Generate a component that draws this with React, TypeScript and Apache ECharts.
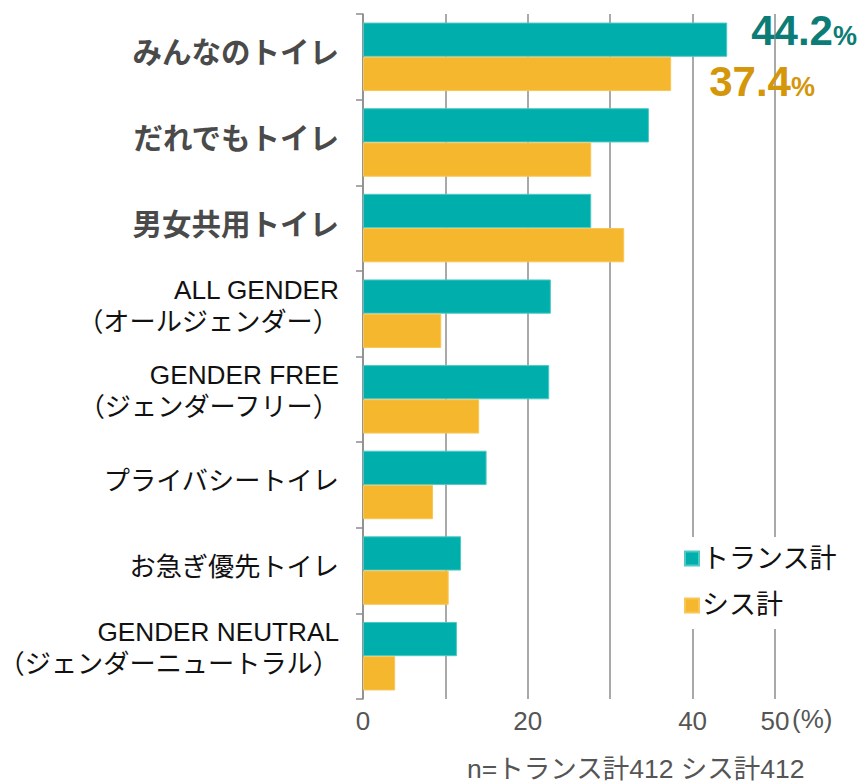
import React, { useEffect, useRef } from "react";
import * as echarts from "echarts";

const categories = [
  "みんなのトイレ",
  "だれでもトイレ",
  "男女共用トイレ",
  "ALL GENDER\n（オールジェンダー）",
  "GENDER FREE\n（ジェンダーフリー）",
  "プライバシートイレ",
  "お急ぎ優先トイレ",
  "GENDER NEUTRAL\n（ジェンダーニュートラル）",
];
const boldCats = ["みんなのトイレ", "だれでもトイレ", "男女共用トイレ"];
const transValues = [44.2, 34.7, 27.7, 22.8, 22.6, 15.0, 11.9, 11.4];
const cisValues = [37.4, 27.7, 31.7, 9.5, 14.1, 8.5, 10.4, 3.9];
const seriesNames = ["トランス計", "シス計"];
const xTickLabels: Record<number, string> = { 0: "0", 20: "20", 40: "40", 50: "50" };
const footnote = "n=トランス計412 シス計412";

const FONT = "'Liberation Sans', 'Noto Sans CJK JP', sans-serif";

export default function App() {
  const ref = useRef<HTMLDivElement>(null);
  useEffect(() => {
    document.body.style.margin = "0";
    const chart = echarts.init(ref.current!, null, { renderer: "svg" });
    const cats = [...categories].reverse();
    const trans = [...transValues].reverse();
    const cis = [...cisValues].reverse();
    const n = cats.length;
    const fmtCat = (v: string) => {
      if (boldCats.includes(v)) return `{b|${v}}\n{e1| }`;
      const lines = v.split("\n");
      if (lines.length > 1) return lines.map((l) => `{r|${l}}`).join("\n") + "\n{e2| }";
      return `{r|${v}}\n{e1| }`;
    };
    chart.setOption({
      animation: false,
      textStyle: { fontFamily: FONT },
      grid: {
        left: 363,
        right: 90,
        top: 14,
        bottom: 85,
        containLabel: false,
        outerBoundsMode: "none",
      },
      legend: {
        orient: "vertical",
        left: 678,
        top: 537,
        padding: [8, 8, 10, 6],
        backgroundColor: "#ffffff",
        itemWidth: 14,
        itemHeight: 14,
        itemGap: 20,
        icon: "rect",
        textStyle: { fontSize: 27, color: "#111", fontFamily: FONT, padding: [0, 0, 0, -2] },
        data: seriesNames,
        z: 10,
      },
      xAxis: {
        type: "value",
        min: 0,
        max: 50,
        interval: 10,
        axisLine: { show: false },
        axisTick: { show: false },
        splitLine: { show: true, lineStyle: { color: "#8c8c8c", width: 1.5 } },
        axisLabel: {
          fontSize: 26,
          color: "#555",
          margin: 9,
          formatter: (v: number) => xTickLabels[v] ?? "",
        },
      },
      yAxis: {
        type: "category",
        data: cats,
        axisLine: { show: true, lineStyle: { color: "#8c8c8c", width: 1.5 } },
        axisTick: { show: true, length: 7, lineStyle: { color: "#8c8c8c", width: 1.5 } },
        axisLabel: {
          margin: 24,
          color: "#111",
          fontSize: 26,
          lineHeight: 32,
          fontFamily: FONT,
          formatter: fmtCat,
          rich: {
            b: { fontSize: 29.5, fontWeight: "bold", color: "#4a4a4a", fontFamily: FONT, lineHeight: 34 },
            r: { fontSize: 26.2, color: "#111", fontFamily: FONT, lineHeight: 32 },
            e1: { fontSize: 2, lineHeight: 8 },
            e2: { fontSize: 2, lineHeight: 16 },
          },
        },
      },
      series: [
        {
          name: seriesNames[0],
          type: "bar",
          barGap: "0%",
          barCategoryGap: "20%",
          itemStyle: { color: "#00aeab", borderColor: "#4fc9c5", borderWidth: 1 },
          data: trans.map((v, i) =>
            i === n - 1
              ? {
                  value: v,
                  label: {
                    show: true,
                    position: "right",
                    distance: 24,
                    offset: [0, -9],
                    formatter: `{a|${v.toFixed(1)}}{p|%}`,
                    rich: {
                      a: { fontSize: 42, fontWeight: "bold", color: "#0b7c76", fontFamily: FONT },
                      p: { fontSize: 27, fontWeight: "bold", color: "#0b7c76", fontFamily: FONT, padding: [10, 0, 0, 0] },
                    },
                  },
                }
              : v
          ),
        },
        {
          name: seriesNames[1],
          type: "bar",
          barGap: "0%",
          barCategoryGap: "20%",
          itemStyle: { color: "#f5b72d", borderColor: "#f7c656", borderWidth: 1 },
          data: cis.map((v, i) =>
            i === n - 1
              ? {
                  value: v,
                  label: {
                    show: true,
                    position: "right",
                    distance: 38,
                    offset: [0, 8],
                    formatter: `{a|${v.toFixed(1)}}{p|%}`,
                    rich: {
                      a: { fontSize: 42, fontWeight: "bold", color: "#d4960a", fontFamily: FONT },
                      p: { fontSize: 27, fontWeight: "bold", color: "#d4960a", fontFamily: FONT, padding: [10, 0, 0, 0] },
                    },
                  },
                }
              : v
          ),
        },
      ],
      graphic: [
        {
          type: "text",
          left: 792,
          top: 706,
          style: { text: "(%)", fontSize: 26, fill: "#555", fontFamily: FONT },
        },
        {
          type: "text",
          left: 467,
          top: 756,
          style: { text: footnote, fontSize: 26.5, fill: "#555", fontFamily: FONT },
        },
      ],
    });
    return () => chart.dispose();
  }, []);
  return <div ref={ref} style={{ width: 865, height: 784 }} />;
}
